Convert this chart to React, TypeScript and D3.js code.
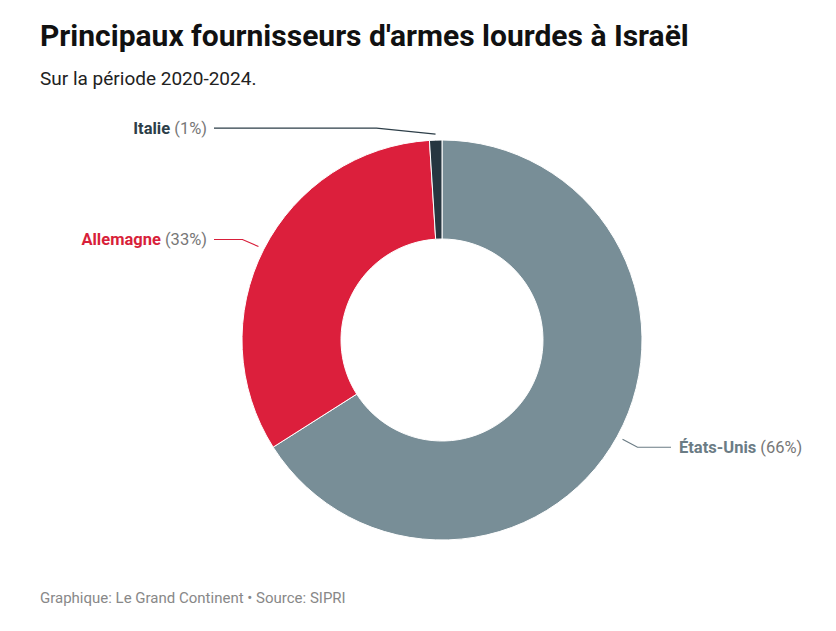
import React from "react";
import * as d3 from "d3";

const countries = ["États-Unis", "Allemagne", "Italie"];
const shares = [66, 33, 1];
const sliceColors = ["#788e97", "#dc1f3c", "#263640"];
const labelColors = ["#6b7c85", "#d81f3a", "#2d3e48"];

// label placement relative to the slice anchor (elbow offset)
const elbowOffsets = [
  { dx: 15, dy: 8 },
  { dx: -16, dy: -7 },
  { dx: -59, dy: -6 },
];

const W = 836;
const H = 631;
const cx = 442;
const cy = 340;
const outerR = 200;
const innerR = 101;

export default function App() {
  const data = countries.map((c, i) => ({ name: c, value: shares[i], i }));
  const pie = d3
    .pie<any>()
    .value((d) => d.value)
    .sort(null);
  const arcs = pie(data);
  const arc = d3.arc<any>().innerRadius(innerR).outerRadius(outerR);
  const anchorArc = d3.arc<any>().innerRadius(206).outerRadius(206);

  return (
    <svg
      width={W}
      height={H}
      style={{ position: "absolute", left: 0, top: 0, background: "#fff" }}
      fontFamily="Roboto, sans-serif"
    >
      <text x={40} y={46} fontSize={30} fontWeight={700} fill="#111">
        Principaux fournisseurs d'armes lourdes à Israël
      </text>
      <text x={40} y={85} fontSize={19} fill="#222">
        Sur la période 2020-2024.
      </text>

      <g transform={`translate(${cx},${cy})`}>
        {arcs.map((a) => (
          <path
            key={a.data.name}
            d={arc(a) || ""}
            fill={sliceColors[a.data.i]}
            stroke="#fff"
            strokeWidth={1}
          />
        ))}
        {arcs.map((a) => {
          const [ax, ay] = anchorArc.centroid(a);
          const off = elbowOffsets[a.data.i];
          const ex = ax + off.dx;
          const ey = ay + off.dy;
          const right = ax > 0;
          const lx = right ? 671 - cx : 214 - cx;
          const tx = right ? lx + 8 : lx - 7;
          return (
            <g key={"l" + a.data.name}>
              <polyline
                points={`${ax},${ay} ${ex},${ey} ${lx},${ey}`}
                fill="none"
                stroke={labelColors[a.data.i]}
                strokeWidth={1.2}
              />
              <text
                x={tx}
                y={ey + 6}
                fontSize={16.5}
                textAnchor={right ? "start" : "end"}
              >
                <tspan fontWeight={700} fill={labelColors[a.data.i]}>
                  {a.data.name}
                </tspan>
                <tspan fill="#777"> ({a.data.value}%)</tspan>
              </text>
            </g>
          );
        })}
      </g>

      <text x={40} y={603} fontSize={15} fill="#888">
        Graphique: Le Grand Continent • Source: SIPRI
      </text>
    </svg>
  );
}
